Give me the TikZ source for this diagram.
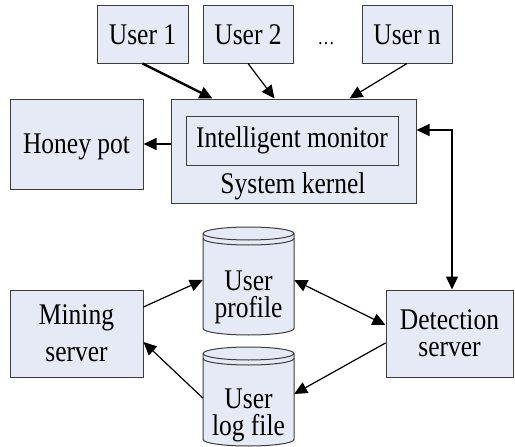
\documentclass[tikz,border=0pt]{standalone}
\usepackage{fontspec}
\setmainfont[FakeStretch=0.85]{Liberation Serif}
\usetikzlibrary{arrows.meta,calc}
\definecolor{boxfill}{RGB}{230,234,246}
\definecolor{boxline}{RGB}{60,60,60}
\begin{document}
\begin{tikzpicture}[x=1pt,y=-1pt,
  every node/.style={font=\fontsize{30}{34}\selectfont, inner sep=0pt},
  box/.style={draw=boxline, fill=boxfill, line width=1pt},
  cylbody/.style={draw=boxline, fill=boxfill, line width=1pt},
  tip/.tip={Triangle[length=13pt,width=12pt]},
  arr/.style={-tip, line width=1.2pt},
  thickarr/.style={-tip, line width=2.4pt},
  dblarr/.style={tip-tip, line width=1.2pt}]
\useasboundingbox (0,0) rectangle (515,447);

% users
\node[box, minimum width=91pt, minimum height=58pt, text height=22pt, text depth=0pt] (u1) at (142.5,34) {User 1};
\node[box, minimum width=90pt, minimum height=58pt, text height=22pt, text depth=0pt] (u2) at (248,34) {User 2};
\node[anchor=base, font=\fontsize{20}{24}\selectfont] (dots) at (326,44) {\ldots};
\node[box, minimum width=90pt, minimum height=58pt, text height=22pt, text depth=0pt] (un) at (407,34) {User n};

% kernel
\node[box, minimum width=245pt, minimum height=104pt] (kernel) at (293.5,151) {};
\node[box, minimum width=212pt, minimum height=49pt, text height=19pt, text depth=6pt] (monitor) at (292,140.5) {Intelligent monitor};
\node[anchor=base] (klabel) at (293,193) {System kernel};

% honey pot
\node[box, minimum width=133pt, minimum height=90pt, text height=20pt, text depth=2pt] (honey) at (76.5,144) {Honey pot};

% mining / detection
\node[box, minimum width=133pt, minimum height=87pt, align=center, font=\fontsize{30}{37}\selectfont] (mining) at (76.5,333.5) {Mining\\server};
\node[box, minimum width=127pt, minimum height=87pt, align=center, font=\fontsize{30}{27}\selectfont] (det) at (449.5,333.5) {Detection\\server};

% cylinders
\filldraw[cylbody] (203,233.5) -- (203,328.5)
  arc[start angle=180, end angle=360, x radius=45.5pt, y radius=6.5pt]
  -- (294,233.5)
  arc[start angle=0, end angle=180, x radius=45.5pt, y radius=6.5pt] -- cycle;
\draw[boxline, line width=1pt] (203,233.5) arc[start angle=180, end angle=360, x radius=45.5pt, y radius=6.5pt];
\draw[boxline, line width=1pt] (203,238.5) arc[start angle=180, end angle=360, x radius=45.5pt, y radius=6.5pt];

\filldraw[cylbody] (203,353.5) -- (203,439.5)
  arc[start angle=180, end angle=360, x radius=45.5pt, y radius=6.5pt]
  -- (294,353.5)
  arc[start angle=0, end angle=180, x radius=45.5pt, y radius=6.5pt] -- cycle;
\draw[boxline, line width=1pt] (203,353.5) arc[start angle=180, end angle=360, x radius=45.5pt, y radius=6.5pt];
\draw[boxline, line width=1pt] (203,358.5) arc[start angle=180, end angle=360, x radius=45.5pt, y radius=6.5pt];

\node[align=center, minimum width=91pt, font=\fontsize{30}{27}\selectfont] (prof) at (248.5,297) {User\\profile};
\node[align=center, minimum width=91pt, font=\fontsize{30}{27}\selectfont] (log) at (248.5,415) {User\\log file};

% connectors
\draw[thickarr] (u1.south) -- ($(kernel.north west)+(42,0)$);
\draw[arr] (u2.south) -- ($(kernel.north west)+(104,0)$);
\draw[arr] (un.south) -- ($(kernel.north west)+(179,0)$);
\draw[arr] (kernel.west |- honey.east) -- (honey.east);
\draw[dblarr] ($(kernel.east)+(0,-21)$) -| ($(det.north)+(2.5,0)$);
\draw[arr] ($(mining.east)+(0,-26.5)$) -- ($(prof.west)+(0,-17)$);
\draw[dblarr] ($(prof.east)+(0,-17)$) -- ($(det.west)+(0,-8.5)$);
\draw[arr] ($(det.west)+(0,9.5)$) -- ($(log.east)+(0,-21)$);
\draw[arr] ($(log.west)+(0,-17)$) -- ($(mining.east)+(0,8.5)$);
\end{tikzpicture}
\end{document}
